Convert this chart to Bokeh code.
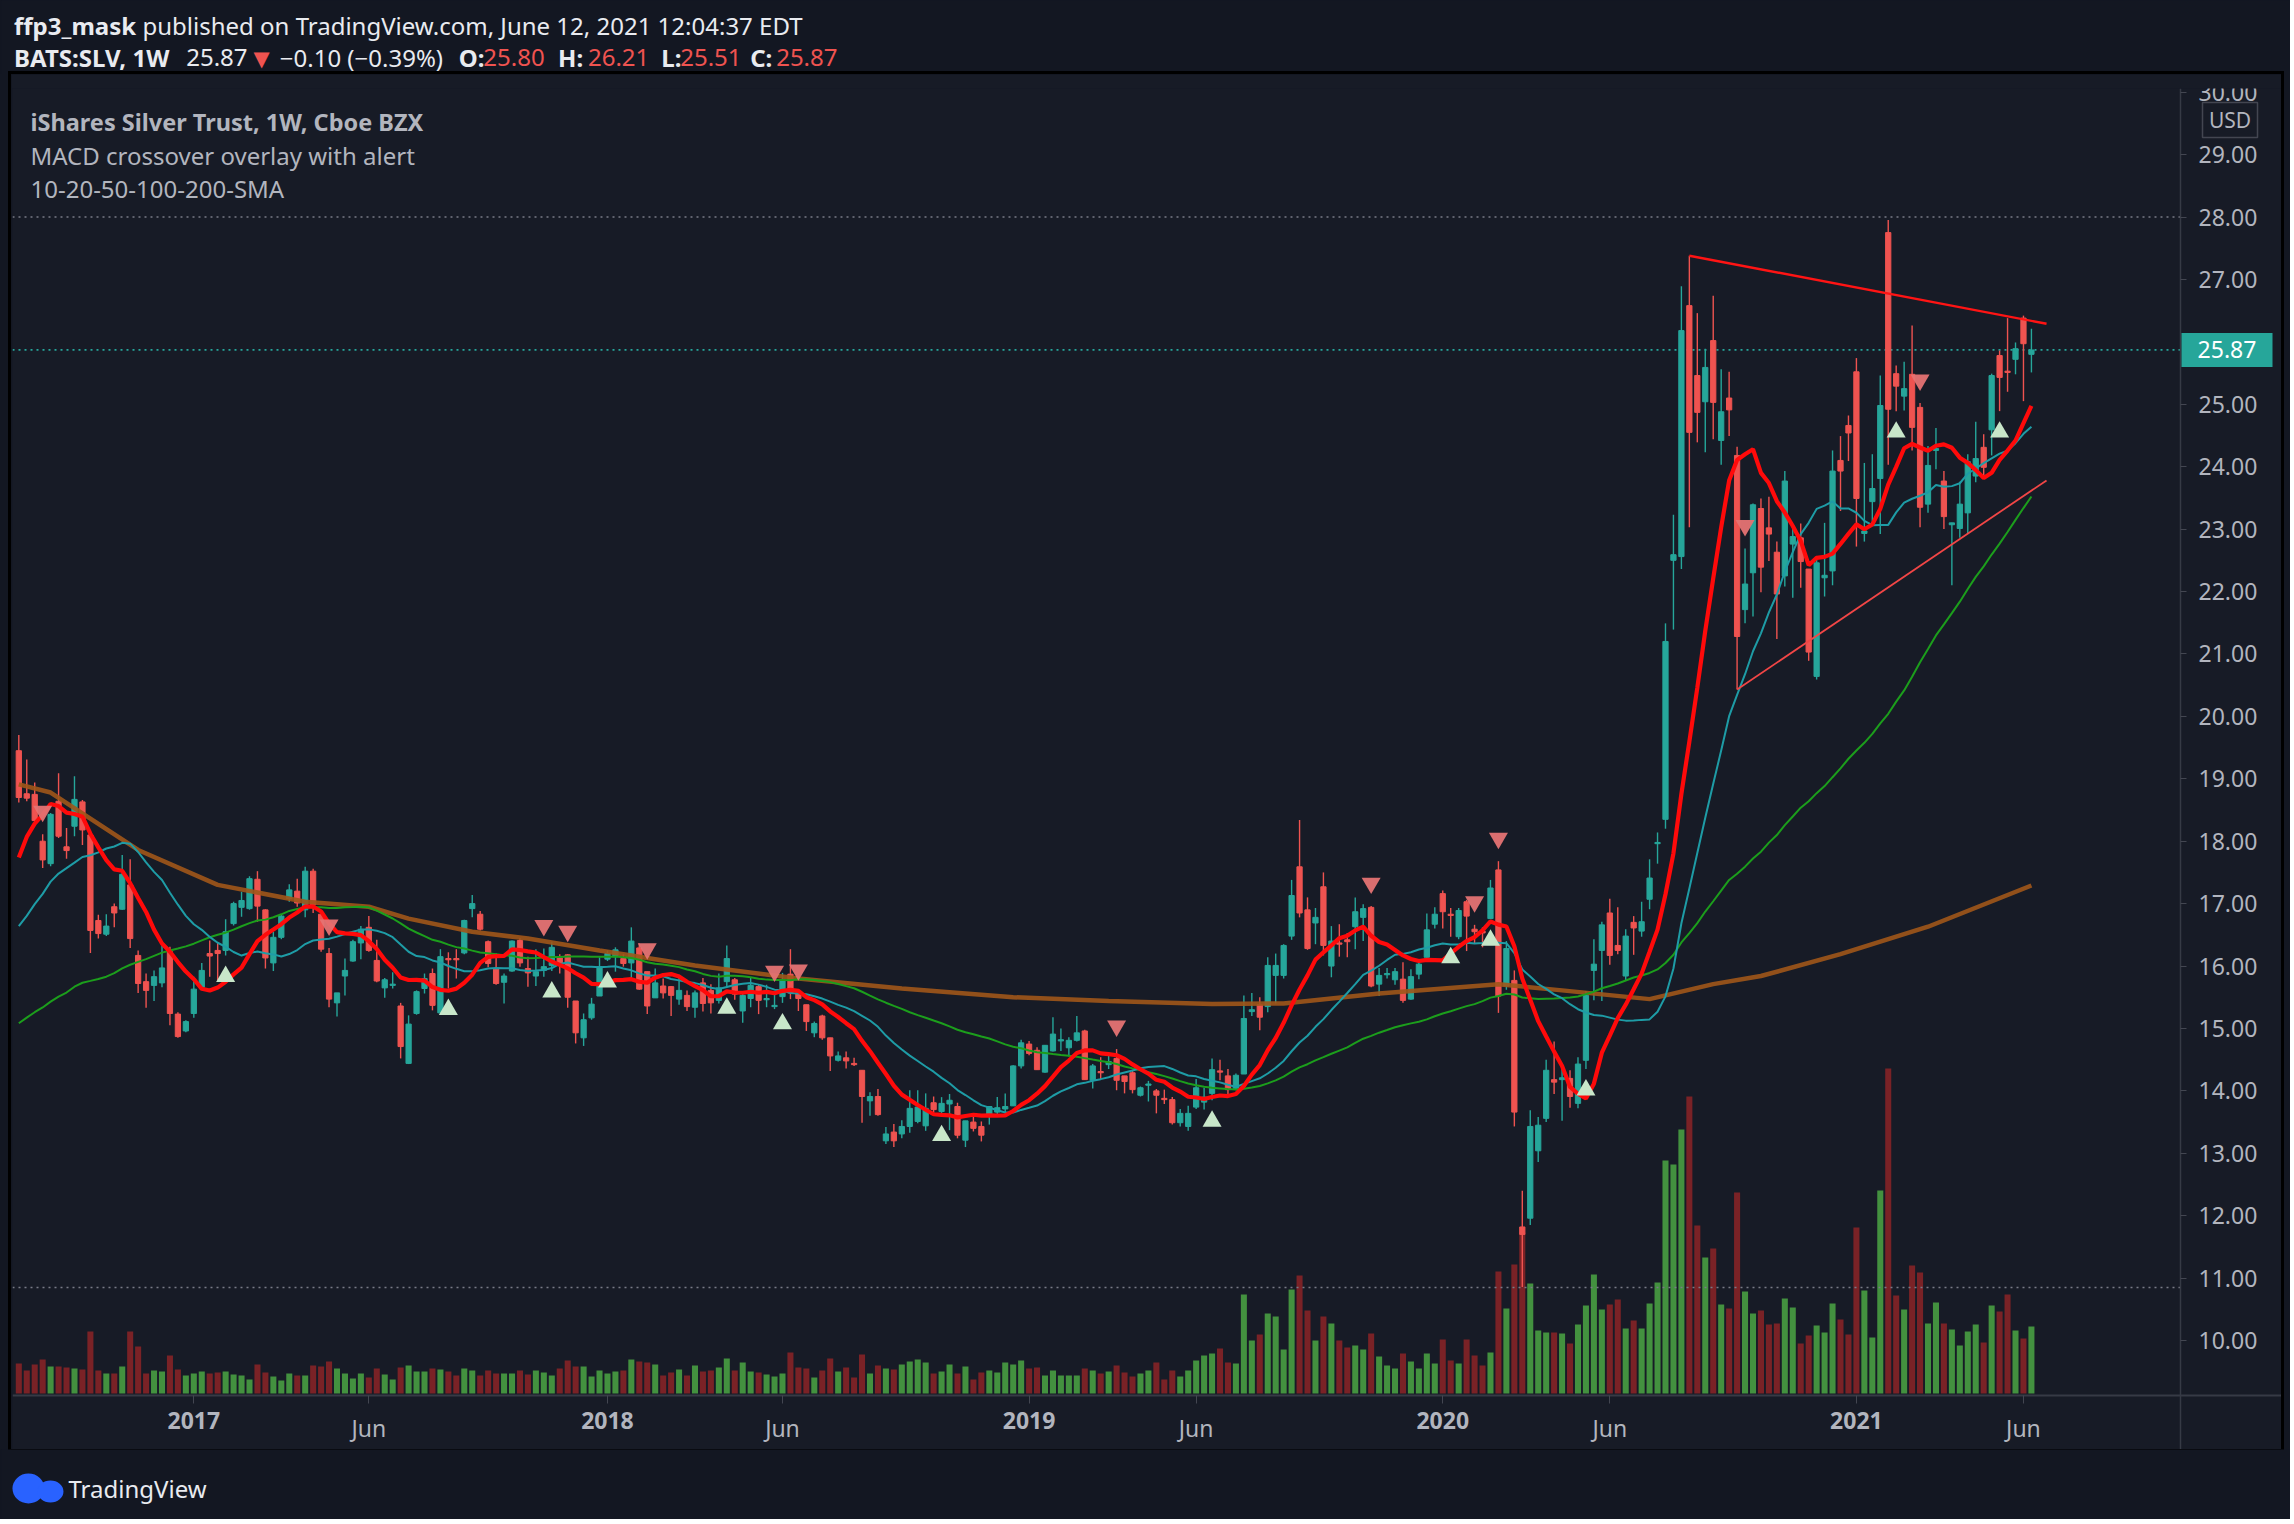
import numpy as np
import pandas as pd
from bokeh.plotting import figure
from bokeh.layouts import column
from bokeh.models import (ColumnDataSource, Range1d, FixedTicker, PrintfTickFormatter,
                          Label, LinearAxis)
from bokeh.core.properties import value
from bokeh.embed import file_html
from bokeh.resources import INLINE

# ---------------------------------------------------------------- data
first_week = "2016-08-01"          # weekly bars, BATS:SLV

opens = [
    19.45, 18.76, 18.75, 18.00, 17.64, 18.64, 17.91, 18.24, 18.63, 18.10,
    16.73, 16.51, 16.95, 16.91, 17.30, 16.17, 15.75, 15.69, 15.73, 16.23,
    15.23, 14.96, 15.24, 15.66, 16.20, 16.25, 16.25, 16.68, 16.94, 16.92,
    17.39, 16.90, 16.05, 16.46, 17.08, 17.20, 16.90, 17.52, 16.83, 16.20,
    15.41, 15.84, 16.08, 16.37, 16.62, 16.09, 15.65, 15.69, 15.36, 14.44,
    15.24, 15.64, 15.88, 15.25, 16.12, 16.12, 16.21, 16.92, 16.83, 16.39,
    15.95, 15.74, 15.92, 16.41, 15.96, 15.84, 15.93, 16.01, 16.13, 16.18,
    15.44, 14.85, 15.17, 15.52, 16.11, 16.15, 16.12, 16.05, 16.29, 15.91,
    15.49, 15.68, 15.67, 15.47, 15.53, 15.34, 15.73, 15.61, 15.45, 15.75,
    15.78, 15.28, 15.48, 15.67, 15.46, 15.35, 15.51, 15.87, 15.57, 15.38,
    14.93, 15.20, 14.85, 14.49, 14.53, 14.44, 14.33, 13.84, 13.91, 13.20,
    13.34, 13.31, 13.43, 13.51, 13.44, 13.81, 13.67, 13.79, 13.75, 13.21,
    13.50, 13.43, 13.61, 13.66, 13.71, 13.76, 14.40, 14.75, 14.65, 14.30,
    14.64, 14.80, 14.69, 14.81, 14.96, 14.17, 14.31, 14.42, 14.52, 14.24,
    14.29, 13.93, 14.09, 14.00, 13.88, 13.86, 13.49, 13.43, 13.74, 13.82,
    13.96, 14.32, 14.24, 14.04, 14.27, 15.27, 15.38, 15.35, 15.85, 15.85,
    16.48, 17.59, 16.90, 16.69, 17.27, 16.00, 16.37, 16.42, 16.63, 16.78,
    16.94, 15.71, 15.86, 15.78, 15.79, 15.47, 15.87, 16.14, 16.67, 17.16,
    16.83, 16.47, 17.03, 16.59, 16.56, 16.76, 17.54, 15.68, 15.77, 11.82,
    11.96, 13.04, 13.56, 14.18, 14.18, 14.20, 13.80, 14.49, 15.93, 16.25,
    16.85, 16.33, 15.84, 16.70, 16.56, 17.07, 17.96, 18.35, 22.50, 22.56,
    26.58, 25.46, 25.04, 26.02, 24.42, 25.10, 24.18, 21.71, 22.30, 23.33,
    23.02, 22.63, 22.25, 22.76, 22.86, 22.36, 20.64, 22.22, 22.33, 24.10,
    24.66, 25.52, 22.93, 23.44, 23.81, 27.75, 25.49, 25.13, 25.48, 24.95,
    23.40, 24.26, 23.77, 23.07, 23.01, 23.26, 23.85, 24.31, 24.59, 25.78,
    25.53, 25.72, 26.38, 25.80,
]
highs = [
    19.70, 19.31, 18.94, 18.11, 18.45, 19.09, 18.21, 19.04, 18.66, 18.12,
    16.82, 16.83, 17.00, 17.78, 17.71, 16.25, 15.88, 15.93, 16.33, 16.31,
    15.26, 15.13, 15.83, 16.05, 16.41, 16.37, 16.75, 17.03, 17.19, 17.44,
    17.52, 16.91, 16.55, 16.83, 17.31, 17.40, 17.59, 17.56, 16.83, 16.29,
    15.57, 16.12, 16.42, 16.64, 16.80, 16.42, 15.81, 15.90, 15.41, 15.21,
    15.61, 15.88, 15.96, 16.27, 16.22, 16.27, 16.74, 17.14, 16.88, 16.41,
    16.20, 15.88, 16.41, 16.45, 16.15, 16.27, 16.28, 16.39, 16.19, 16.19,
    15.44, 15.24, 15.49, 16.14, 16.25, 16.30, 16.19, 16.62, 16.36, 15.91,
    15.96, 15.80, 15.68, 15.86, 15.61, 15.61, 15.81, 15.71, 15.88, 16.33,
    15.81, 15.59, 15.82, 15.70, 15.70, 15.55, 15.89, 16.27, 15.57, 15.38,
    15.11, 15.22, 14.85, 14.63, 14.63, 14.53, 14.33, 13.98, 14.03, 13.42,
    13.47, 13.53, 14.01, 14.01, 13.96, 13.91, 13.90, 13.95, 13.81, 13.52,
    13.64, 13.51, 13.75, 13.90, 13.96, 14.41, 14.82, 14.80, 14.70, 14.73,
    15.18, 15.00, 14.86, 15.20, 14.98, 14.43, 14.54, 14.60, 14.67, 14.24,
    14.34, 14.07, 14.16, 14.03, 14.02, 13.90, 13.71, 13.76, 14.19, 14.05,
    14.52, 14.50, 14.35, 14.28, 15.53, 15.57, 15.50, 16.14, 16.20, 16.35,
    17.38, 18.34, 17.10, 16.93, 17.50, 16.64, 16.67, 16.53, 17.10, 16.99,
    16.96, 15.97, 15.97, 15.97, 16.06, 15.95, 16.10, 16.84, 16.94, 17.21,
    16.93, 16.93, 17.06, 16.66, 16.62, 17.38, 17.68, 16.40, 15.93, 12.40,
    13.69, 13.58, 14.50, 14.79, 14.39, 14.33, 14.54, 15.60, 16.43, 16.71,
    17.08, 16.94, 16.59, 16.80, 17.03, 17.71, 18.14, 21.49, 23.23, 26.89,
    27.38, 26.46, 25.89, 26.74, 25.56, 25.52, 24.32, 22.69, 23.41, 23.49,
    23.52, 22.80, 23.93, 23.07, 23.09, 22.36, 22.57, 23.10, 24.26, 24.49,
    24.82, 25.74, 24.06, 24.20, 25.46, 27.95, 25.62, 25.68, 26.26, 25.02,
    24.33, 24.62, 23.93, 23.10, 23.76, 24.20, 24.72, 24.52, 25.49, 25.86,
    26.38, 25.99, 26.42, 26.21,
]
lows = [
    18.62, 18.64, 18.28, 17.57, 17.60, 18.05, 17.72, 18.08, 17.94, 16.21,
    16.44, 16.48, 16.62, 16.90, 16.29, 15.57, 15.33, 15.44, 15.66, 15.05,
    14.85, 14.94, 15.17, 15.64, 15.83, 15.77, 16.17, 16.65, 16.79, 16.90,
    16.71, 15.96, 15.92, 16.43, 17.03, 16.95, 16.78, 16.85, 16.23, 15.34,
    15.19, 15.53, 16.07, 16.11, 16.23, 15.74, 15.49, 15.64, 14.52, 14.43,
    15.22, 15.56, 15.29, 15.24, 15.64, 15.80, 16.19, 16.78, 16.57, 15.98,
    15.70, 15.40, 15.91, 15.99, 15.67, 15.68, 15.83, 15.92, 15.88, 15.33,
    14.76, 14.72, 15.14, 15.52, 16.08, 15.91, 15.99, 15.76, 15.62, 15.23,
    15.49, 15.48, 15.20, 15.38, 15.28, 15.17, 15.27, 15.24, 15.40, 15.66,
    15.46, 15.09, 15.34, 15.23, 15.34, 15.31, 15.41, 15.47, 15.28, 14.96,
    14.86, 14.82, 14.32, 14.47, 14.36, 14.40, 13.49, 13.60, 13.60, 13.15,
    13.10, 13.24, 13.33, 13.48, 13.36, 13.65, 13.62, 13.37, 13.24, 13.10,
    13.35, 13.19, 13.46, 13.62, 13.64, 13.76, 14.36, 14.57, 14.34, 14.29,
    14.63, 14.64, 14.55, 14.79, 14.18, 14.04, 14.19, 14.35, 14.01, 13.96,
    13.96, 13.91, 13.83, 13.64, 13.79, 13.46, 13.43, 13.36, 13.71, 13.70,
    13.85, 14.17, 13.91, 14.01, 14.27, 15.20, 14.97, 15.26, 15.40, 15.80,
    16.42, 16.78, 16.26, 16.35, 16.17, 15.82, 16.15, 16.14, 16.27, 16.40,
    15.66, 15.52, 15.80, 15.70, 15.41, 15.46, 15.79, 16.13, 16.60, 16.60,
    16.47, 16.43, 16.24, 16.36, 16.30, 16.75, 15.25, 15.62, 13.43, 10.86,
    11.85, 12.86, 13.50, 13.95, 13.52, 13.73, 13.72, 14.35, 15.45, 15.44,
    16.02, 16.19, 15.77, 16.18, 16.47, 16.91, 17.64, 18.20, 21.39, 22.36,
    23.03, 24.39, 24.23, 24.44, 24.03, 24.49, 20.43, 21.49, 21.60, 21.99,
    22.49, 21.24, 22.08, 21.90, 22.06, 20.89, 20.59, 21.92, 22.10, 23.29,
    24.09, 22.72, 22.80, 23.12, 22.92, 24.03, 24.89, 24.90, 24.26, 23.03,
    23.26, 23.96, 23.00, 22.10, 22.86, 22.92, 23.75, 23.83, 24.18, 24.89,
    25.20, 25.48, 25.05, 25.51,
]
closes = [
    18.70, 18.69, 18.33, 17.70, 18.43, 18.08, 17.85, 18.67, 18.18, 16.57,
    16.52, 16.64, 16.85, 17.47, 16.44, 15.72, 15.61, 15.83, 15.97, 15.24,
    14.87, 15.11, 15.63, 15.93, 16.16, 16.20, 16.55, 17.00, 17.05, 17.40,
    16.96, 16.13, 16.46, 16.80, 17.22, 17.01, 17.52, 16.98, 16.27, 15.47,
    15.57, 15.93, 16.39, 16.59, 16.25, 15.76, 15.78, 15.71, 14.71, 15.07,
    15.59, 15.80, 15.37, 16.15, 16.10, 16.10, 16.73, 17.00, 16.59, 16.04,
    15.72, 15.84, 16.40, 16.05, 15.89, 15.91, 15.99, 16.30, 16.04, 15.50,
    14.93, 15.14, 15.39, 15.99, 16.20, 16.26, 16.04, 16.40, 15.63, 15.36,
    15.73, 15.57, 15.53, 15.61, 15.35, 15.57, 15.40, 15.41, 15.65, 16.12,
    15.55, 15.53, 15.69, 15.45, 15.48, 15.37, 15.78, 15.57, 15.48, 15.11,
    15.08, 14.85, 14.56, 14.56, 14.48, 14.42, 13.91, 13.91, 13.62, 13.31,
    13.20, 13.43, 13.72, 13.74, 13.72, 13.70, 13.80, 13.85, 13.29, 13.52,
    13.40, 13.29, 13.75, 13.73, 13.75, 14.40, 14.77, 14.60, 14.34, 14.73,
    14.91, 14.82, 14.81, 14.93, 14.18, 14.40, 14.29, 14.47, 14.17, 14.15,
    14.02, 14.05, 14.11, 13.93, 13.86, 13.49, 13.64, 13.64, 14.05, 13.90,
    14.34, 14.30, 14.02, 14.25, 15.16, 15.30, 15.18, 16.01, 16.01, 16.33,
    17.13, 16.85, 16.28, 16.78, 16.33, 16.40, 16.35, 16.39, 16.87, 16.92,
    15.68, 15.85, 15.88, 15.91, 15.45, 15.83, 16.03, 16.58, 16.83, 16.87,
    16.81, 16.89, 16.80, 16.55, 16.53, 17.25, 15.52, 16.28, 13.66, 11.70,
    13.43, 13.45, 14.33, 14.14, 14.21, 13.91, 14.43, 15.53, 16.03, 16.66,
    16.17, 16.25, 16.48, 16.61, 16.71, 17.41, 17.98, 21.20, 22.59, 26.18,
    24.55, 24.87, 25.59, 25.03, 24.88, 24.91, 21.28, 22.12, 23.39, 22.39,
    22.92, 21.96, 23.77, 22.88, 22.48, 21.03, 22.46, 22.26, 23.93, 23.93,
    24.54, 23.49, 22.97, 23.65, 24.98, 24.92, 25.29, 25.25, 24.63, 23.35,
    24.02, 24.29, 23.20, 23.10, 23.40, 24.08, 24.13, 23.99, 25.46, 25.43,
    25.51, 25.89, 25.97, 25.87,
]
volume = [
    30, 23, 29, 34, 27, 27, 26, 25, 24, 62,
    23, 20, 20, 27, 62, 47, 20, 23, 22, 38,
    24, 18, 20, 22, 20, 21, 22, 19, 18, 14,
    29, 21, 17, 13, 20, 18, 18, 28, 27, 32,
    25, 20, 15, 20, 16, 25, 19, 14, 26, 28,
    22, 22, 25, 24, 22, 18, 25, 23, 18, 23,
    20, 20, 20, 23, 19, 23, 21, 18, 25, 33,
    27, 27, 17, 23, 20, 22, 23, 34, 32, 31,
    29, 18, 21, 24, 18, 28, 22, 23, 26, 35,
    23, 31, 22, 21, 19, 17, 20, 41, 26, 25,
    16, 23, 35, 22, 26, 16, 39, 20, 28, 25,
    24, 29, 32, 34, 31, 20, 22, 29, 20, 27,
    14, 21, 23, 21, 31, 29, 33, 25, 26, 18,
    23, 18, 18, 18, 25, 23, 20, 22, 28, 21,
    17, 20, 23, 31, 14, 23, 17, 23, 33, 38,
    40, 45, 31, 30, 99, 53, 59, 80, 77, 44,
    104, 118, 83, 53, 77, 70, 53, 46, 48, 44,
    60, 37, 28, 25, 40, 32, 25, 40, 30, 54,
    33, 30, 54, 38, 28, 41, 122, 85, 129, 161,
    110, 63, 61, 61, 60, 50, 69, 88, 119, 84,
    89, 94, 65, 73, 65, 90, 111, 233, 229, 264,
    297, 168, 136, 145, 89, 85, 201, 102, 80, 83,
    69, 70, 95, 86, 50, 58, 68, 61, 90, 74,
    59, 166, 103, 56, 203, 325, 98, 84, 128, 121,
    70, 91, 70, 64, 48, 62, 69, 51, 88, 82,
    99, 63, 55, 67,
]
# weekly closes before the first bar (for the 10/20/50 SMAs)
prior_closes = [
    14.2, 14.0, 13.9, 13.8, 14.0, 14.6, 14.0, 15.0, 15.1, 15.0,
    14.8, 14.0, 13.6, 13.6, 13.4, 13.4, 13.2, 13.4, 13.5, 13.3,
    13.4, 13.5, 13.3, 13.6, 14.2, 14.9, 14.6, 14.3, 14.9, 14.9,
    15.4, 14.6, 14.4, 14.5, 15.5, 16.1, 16.9, 16.4, 16.0, 15.6,
    15.4, 16.2, 16.3, 16.7, 18.4, 18.9, 18.9, 18.6, 19.3,
]
# 200-week SMA (bar index, value)
sma200_bar = [0, 4, 15, 25, 36, 44, 49, 57, 64, 73, 85, 98, 111, 125, 137,
              150, 159, 171, 186, 194, 205, 213, 219, 229, 240, 253]
sma200_val = [18.91, 18.78, 17.86, 17.30, 17.03, 16.95, 16.76, 16.55, 16.44, 16.25,
              16.01, 15.80, 15.64, 15.50, 15.44, 15.39, 15.40, 15.56, 15.71, 15.61,
              15.47, 15.71, 15.84, 16.19, 16.63, 17.29]
macd_up_bars = [26, 54, 67, 74, 89, 96, 116, 150, 180, 185, 197, 236, 249]
macd_down_bars = [3, 39, 66, 69, 79, 95, 98, 138, 170, 183, 186, 217, 239]
resistance_bar = [210, 254.9]
resistance_px = [27.38, 26.29]
support_bar = [216, 254.9]
support_px = [20.43, 23.78]
hline_levels = [28.0, 10.85]
x_tick_weeks = ["2017-01-02", "2017-06-05", "2018-01-01", "2018-06-04", "2019-01-07",
                "2019-06-03", "2020-01-06", "2020-06-01", "2021-01-04", "2021-05-31"]
x_tick_text = ["2017", "Jun", "2018", "Jun", "2019", "Jun", "2020", "Jun", "2021", "Jun"]
price_ticks = [10, 11, 12, 13, 14, 15, 16, 17, 18, 19, 20, 21, 22, 23, 24, 25, 27, 28, 29, 30]

# ---------------------------------------------------------------- derived
n = len(closes)
assert all(len(a) == n for a in (opens, highs, lows, volume))
bar_dates = pd.date_range(first_week, periods=n, freq="7D")
xs = np.arange(n)
o = np.array(opens, float)
c = np.array(closes, float)
h = np.maximum(np.array(highs, float), np.maximum(o, c))
l = np.minimum(np.array(lows, float), np.minimum(o, c))
rising = c >= o

allc = np.concatenate([np.array(prior_closes, float), c])
k0 = len(prior_closes)


def sma(m):
    return np.array([allc[k0 + j - m + 1:k0 + j + 1].mean() for j in range(n)])


# ---------------------------------------------------------------- style / geometry (page pixels)
OUTER = "#131722"
PANEL = "#171b26"
UP_C, DN_C = "#26a69a", "#ef5350"
VUP_C, VDN_C = "#43913f", "#7a2226"
TXT = "#b2b5be"
WHITE = "#e9ebf0"
RED = "#ef5350"
FONT = "Noto Sans"

PAGE_W = 2290
HDR_H = 74                        # header strip height
P_LEFT, P_RIGHT = 11, 2281        # panel (main figure) horizontal extent
FL, FT = 12, 88                   # frame left / top (price area)
TAXIS_Y = 1395                    # time-axis line
SEP_X = 2180                      # price-axis separator
PANEL_BOTTOM = 1449
PPU = 62.42                       # pixels per price unit
BAR_PX = 7.955                    # pixels per weekly bar


def jx(X):                        # page x -> bar index
    return (X - 10.35) / BAR_PX - 1


def py(Y):                        # page y -> price
    return 28 - (Y - 216.5) / PPU


x_lo, x_hi, x_sep = jx(FL), jx(P_RIGHT), jx(SEP_X)
y_lo, y_hi, y_axis = py(PANEL_BOTTOM), py(FT), py(TAXIS_Y)

# ---------------------------------------------------------------- header figure
hdr = figure(width=PAGE_W, height=HDR_H, x_range=Range1d(0, PAGE_W), y_range=Range1d(HDR_H, 0),
             output_backend="svg", toolbar_location=None, min_border=0,
             x_axis_location=None, y_axis_location=None,
             background_fill_color=OUTER, border_fill_color=OUTER, outline_line_color=None)
hdr.grid.visible = False


def gtxt(fig, s, X, Y, size=24, color=WHITE, bold=False, font=FONT, align="left", level="glyph"):
    fig.text(x=[X], y=[Y], text=[s], text_font=value(font), text_font_size=value(f"{size}px"),
             text_color=color, text_font_style="bold" if bold else "normal",
             text_align=align, text_baseline="middle", level=level)


chg = c[-1] - c[-2]
pct = chg / c[-2] * 100
fmt = lambda v: f"{v:.2f}".replace("-", "\u2212")
gtxt(hdr, "ffp3_mask", 12.6, 25, bold=True)
gtxt(hdr, "published on TradingView.com, June 12, 2021 12:04:37 EDT", 141, 25)
gtxt(hdr, "BATS:SLV, 1W", 12.6, 57, bold=True)
gtxt(hdr, fmt(c[-1]), 184.8, 57)
gtxt(hdr, "\u25bc", 252.0, 58, color=RED, size=21, font="DejaVu Sans")
gtxt(hdr, f"{fmt(chg)} ({fmt(pct)}%)", 278.4, 57)
for lab, val, X0, X1 in (("O:", o[-1], 457.5, 482), ("H:", h[-1], 556.8, 586.7),
                         ("L:", l[-1], 660, 679), ("C:", c[-1], 749, 775)):
    gtxt(hdr, lab, X0, 57, bold=True)
    gtxt(hdr, f"{val:.2f}", X1, 57, color=RED)

# ---------------------------------------------------------------- main chart
p = figure(width=P_RIGHT - P_LEFT, height=PANEL_BOTTOM - HDR_H, title=None,
           x_range=Range1d(x_lo, x_hi), y_range=Range1d(y_lo, y_hi),
           x_axis_location=None, y_axis_location=None,
           output_backend="svg", toolbar_location=None,
           min_border_left=FL - P_LEFT, min_border_right=0,
           min_border_top=FT - HDR_H, min_border_bottom=0,
           background_fill_color=PANEL, border_fill_color=PANEL, outline_line_color=None,
           margin=(0, 0, 0, P_LEFT),
           styles={"outline": "3px solid #000000"})
p.xgrid.visible = False
p.ygrid.visible = False

# volume overlay (baseline 2px above the time axis)
p.extra_y_ranges = {"vol": Range1d(-(PANEL_BOTTOM - TAXIS_Y + 2), TAXIS_Y - 2 - FT)}
src = ColumnDataSource(dict(
    x=xs, o=o, h=h, l=l, c=c,
    top=np.maximum(o, c), bot=np.minimum(o, c),
    color=np.where(rising, UP_C, DN_C),
    vol=np.array(volume, float), vcolor=np.where(rising, VUP_C, VDN_C)))
p.vbar(x="x", width=0.76, top="vol", bottom=0, fill_color="vcolor", line_color=None,
       y_range_name="vol", source=src)

# horizontal levels (stop at the price axis)
for lev in hline_levels:
    p.segment(x0=[x_lo], y0=[lev], x1=[x_sep], y1=[lev], line_color="#787b86",
              line_width=1.6, line_dash="2 4")
p.segment(x0=[x_lo], y0=[c[-1]], x1=[x_sep], y1=[c[-1]], line_color=UP_C,
          line_width=1.8, line_dash="2 4")

# candles
p.segment(x0="x", y0="l", x1="x", y1="h", line_color="color", line_width=1.4, source=src)
p.vbar(x="x", width=0.66, top="top", bottom="bot", fill_color="color", line_color="color",
       line_width=1, source=src)

# moving averages
p.line(sma200_bar, sma200_val, line_color="#a0561a", line_width=4.5, line_alpha=0.9)
p.line(xs, sma(50), line_color="#1c9e1c", line_width=2)
p.line(xs, sma(20), line_color="#1e9ca6", line_width=2)
p.line(xs, sma(10), line_color="#ff0a0a", line_width=4.2)

# trend lines
p.line(resistance_bar, resistance_px, line_color="#ff1414", line_width=2.4)
p.line(support_bar, support_px, line_color="#f24646", line_width=1.8)

# MACD crossover markers
up_i = np.array(macd_up_bars)
dn_i = np.array(macd_down_bars)
p.scatter(up_i, l[up_i] - 21 / PPU, marker="triangle", size=19,
          fill_color="#c8e6c9", line_color=None)
p.scatter(dn_i, h[dn_i] + 23 / PPU, marker="inverted_triangle", size=19,
          fill_color="#e57373", line_color=None, fill_alpha=0.95)

# time axis: years (bold) and months, drawn on the separator line inside the panel
tick_pos = [int(bar_dates.get_loc(pd.Timestamp(d))) for d in x_tick_weeks]
year_ticks = [(tp, t) for tp, t in zip(tick_pos, x_tick_text) if t.isdigit()]
month_ticks = [(tp, t) for tp, t in zip(tick_pos, x_tick_text) if not t.isdigit()]


def time_axis(ticks, bold, show_line):
    ax = LinearAxis(fixed_location=y_axis, ticker=FixedTicker(ticks=[t for t, _ in ticks]))
    ax.major_label_overrides = {t: s for t, s in ticks}
    ax.axis_line_color = "#363a45" if show_line else None
    ax.axis_line_width = 2
    ax.major_tick_line_color = "#434651"
    ax.major_tick_out = 8
    ax.major_tick_in = 0
    ax.minor_tick_line_color = None
    ax.major_label_text_color = TXT
    ax.major_label_text_font = FONT
    ax.major_label_text_font_size = "23px"
    ax.major_label_text_font_style = "bold" if bold else "normal"
    ax.major_label_standoff = 8
    p.add_layout(ax, "below")


time_axis(year_ticks, True, True)
time_axis(month_ticks, False, False)

# price axis, drawn at the separator inside the panel
ya = LinearAxis(fixed_location=x_sep, ticker=FixedTicker(ticks=price_ticks),
                formatter=PrintfTickFormatter(format="%.2f"))
ya.axis_line_color = "#363a45"
ya.axis_line_width = 1.5
ya.major_tick_line_color = "#434651"
ya.major_tick_out = 6
ya.major_tick_in = 0
ya.minor_tick_line_color = None
ya.major_label_text_color = TXT
ya.major_label_text_font = FONT
ya.major_label_text_font_size = "23px"
ya.major_label_standoff = 12
p.add_layout(ya, "right")

# last price tag and currency tag
tag_x = jx(2226.5)
p.rect(x=[tag_x], y=[c[-1]], width=91, height=34, width_units="screen", height_units="screen",
       fill_color=UP_C, line_color=None, level="overlay")
gtxt(p, f"{c[-1]:.2f}", tag_x, c[-1], size=23, color="#ffffff", align="center", level="overlay")
usd_x, usd_y = jx(2229.5), py(119.5)
p.rect(x=[usd_x], y=[usd_y], width=55, height=35, width_units="screen", height_units="screen",
       fill_color=PANEL, line_color="#434651", line_width=1.5, level="overlay")
gtxt(p, "USD", usd_x, usd_y, size=21, color=TXT, align="center", level="overlay")


# legend inside the panel
def ltxt(s, X, Y, bold=False):
    p.add_layout(Label(x=X - FL, y=PANEL_BOTTOM - Y, x_units="screen", y_units="screen", text=s,
                       text_font=FONT, text_font_size="23.5px" if bold else "24px",
                       text_color=TXT, text_font_style="bold" if bold else "normal",
                       text_align="left", text_baseline="middle"))


ltxt("iShares Silver Trust, 1W, Cboe BZX", 30, 121.7, bold=True)
ltxt("MACD crossover overlay with alert", 30, 155)
ltxt("10-20-50-100-200-SMA", 30, 188)

# ---------------------------------------------------------------- footer figure
FTR_TOP, FTR_BOT = PANEL_BOTTOM, 1519
ftr = figure(width=PAGE_W, height=FTR_BOT - FTR_TOP, x_range=Range1d(0, PAGE_W),
             y_range=Range1d(FTR_BOT, FTR_TOP), output_backend="svg", toolbar_location=None,
             min_border=0, x_axis_location=None, y_axis_location=None,
             background_fill_color=OUTER, border_fill_color=OUTER, outline_line_color=None)
ftr.grid.visible = False
ftr.ellipse(x=[27, 49], y=[1488, 1491], width=[32, 26], height=[30, 22],
            fill_color="#2962ff", line_color=None)
gtxt(ftr, "TradingView", 67, 1488, size=24, color=WHITE)

layout = column(hdr, p, ftr, spacing=0, styles={"background-color": OUTER})

html = file_html(layout, INLINE, title="BATS:SLV 1W")
html = html.replace("<body>", f'<body style="background:{OUTER};margin:0;">', 1)
open("out.html", "w").write(html)
